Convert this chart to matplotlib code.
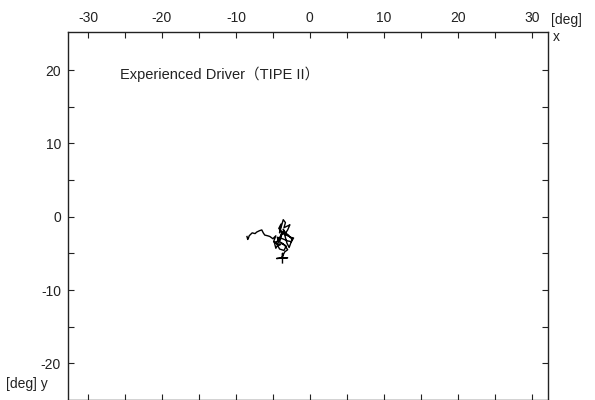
import matplotlib.pyplot as plt
import numpy as np

# gaze trajectory (deg)
gaze_x = [-8.5, -8.4, -8.3, -8.2, -7.8, -7.4, -7.2, -6.8, -6.5, -6.3, -6.1, -5.7,
          -5.4, -5.0, -4.6, -4.9, -4.3, -4.6, -4.8, -4.0, -3.8, -4.2, -3.9, -4.1,
          -3.6, -3.3, -3.5, -2.9, -2.7, -3.0, -3.4, -2.6, -2.2, -2.5, -3.0, -3.7,
          -4.4, -4.1, -3.8, -3.2, -3.5, -4.1, -4.5, -3.9, -3.3, -3.6, -3.1, -2.8,
          -2.4, -2.9, -3.6, -4.2, -3.4, -3.0, -3.4, -3.6, -3.8, -4.5, -3.0, -3.7,
          -3.7, -3.7]
gaze_y = [-2.7, -3.1, -2.9, -2.6, -2.2, -2.3, -2.1, -1.9, -1.8, -2.2, -2.5, -2.6,
          -2.7, -3.0, -2.6, -3.4, -3.8, -4.3, -3.5, -3.2, -2.0, -1.6, -1.0, -2.2,
          -0.4, -0.8, -1.5, -1.2, -1.1, -1.8, -2.4, -2.8, -2.9, -3.4, -3.3, -3.0,
          -2.8, -3.9, -3.6, -4.0, -4.6, -4.4, -3.6, -2.5, -2.2, -1.7, -3.6, -4.2,
          -3.1, -2.5, -2.0, -3.3, -3.9, -4.5, -4.8, -5.2, -5.6, -5.7, -5.6, -5.6,
          -5.0, -6.3]

major_ticks = [-30, -20, -10, 0, 10, 20, 30]
minor_x = np.arange(-30, 31, 5)
minor_y = np.arange(-20, 21, 5)

plt.rcParams['font.family'] = ['Liberation Sans', 'Noto Sans CJK JP', 'DejaVu Sans']
plt.rcParams['axes.unicode_minus'] = False
ink = '#222222'

fig = plt.figure(figsize=(5.95, 4.0), dpi=100)
ax = fig.add_axes([68/595, 0.0, 480/595, 368/400])

ax.plot(gaze_x, gaze_y, color='black', linewidth=1.0)

ax.set_xlim(-32.7, 32.2)
ax.set_ylim(-25, 25.2)

ax.set_xticks(major_ticks)
ax.set_yticks(major_ticks[1:-1])
ax.set_xticks(minor_x, minor=True)
ax.set_yticks(minor_y, minor=True)
ax.tick_params(which='both', direction='in', length=4, width=0.8, color=ink,
               top=True, bottom=True, left=True, right=True,
               labeltop=True, labelbottom=False, labelleft=True, labelright=False,
               labelsize=10, labelcolor=ink, pad=5)
for s in ax.spines.values():
    s.set_linewidth(1.0)
    s.set_color(ink)

ax.text(-25.7, 19.4, 'Experienced Driver（TIPE II）', fontsize=10.5, color=ink,
        va='center', ha='left')

fig.text(551/595, 1 - 20/400, '[deg]', fontsize=10, color=ink, va='center', ha='left')
fig.text(553/595, 1 - 37/400, 'x', fontsize=10, color=ink, va='center', ha='left')
fig.text(6/595, 1 - 384/400, '[deg] y', fontsize=10, color=ink, va='center', ha='left')

fig.savefig('out.png', dpi=100)
